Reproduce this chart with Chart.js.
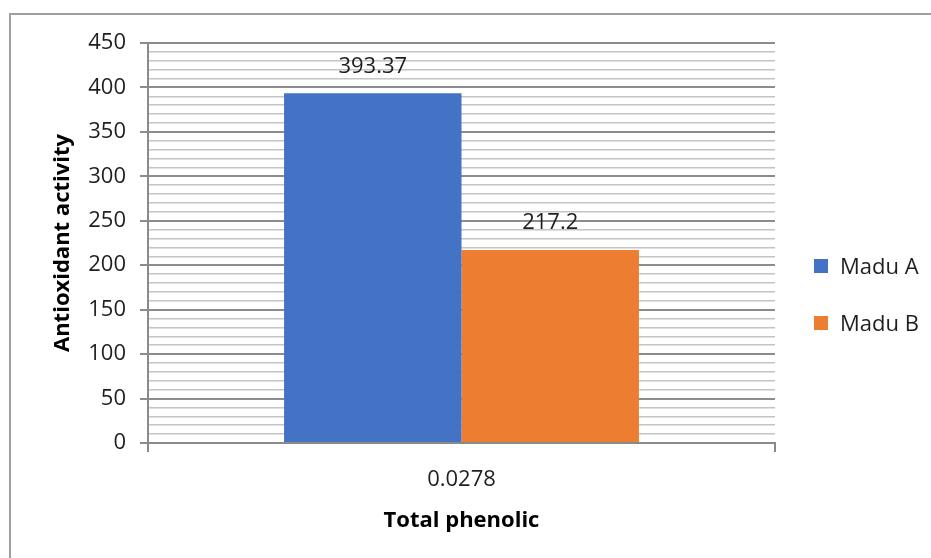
<!DOCTYPE html>
<html>
<head>
<meta charset="utf-8">
<script src="https://cdn.jsdelivr.net/npm/chart.js@4.4.1/dist/chart.umd.min.js"></script>
<style>
  html, body { margin: 0; padding: 0; background: #ffffff; }
  #wrap { position: relative; width: 931px; height: 558px; overflow: hidden; }
  #frame { position: absolute; left: 9px; top: 13px; width: 960px; height: 600px;
           border-left: 2px solid #a0a0a0; border-top: 2px solid #a0a0a0; box-sizing: border-box; }
  canvas { position: absolute; left: 0; top: 0; }
</style>
</head>
<body>
<div id="wrap">
  <div id="frame"></div>
  <canvas id="c" width="931" height="558"></canvas>
</div>
<script>
// Categories, series and axis settings
const categories = ['0.0278'];
const seriesNames = ['Madu A', 'Madu B'];
const maduA = [393.37];
const maduB = [217.2];
const seriesColors = ['#4472C4', '#ED7D31'];
const yMax = 450;
const yMajorStep = 50;
const yMinorStep = 10;
const xTitle = 'Total phenolic';
const yTitle = 'Antioxidant activity';

const FONT = '"Open Sans", "Noto Sans", sans-serif';
const TEXT = '#1f1f1f';
const SIZE = 22;

// Value labels above each bar
const valueLabels = {
  id: 'valueLabels',
  afterDatasetsDraw(chart) {
    const ctx = chart.ctx;
    ctx.save();
    ctx.font = SIZE + 'px ' + FONT;
    ctx.fillStyle = TEXT;
    ctx.textAlign = 'center';
    ctx.textBaseline = 'middle';
    chart.data.datasets.forEach((ds, i) => {
      chart.getDatasetMeta(i).data.forEach((bar, j) => {
        ctx.fillText(String(ds.data[j]), bar.x, bar.y - 27);
      });
    });
    ctx.restore();
  }
};

// Legend on the right, one row per series
const sideLegend = {
  id: 'sideLegend',
  afterDraw(chart) {
    const ctx = chart.ctx;
    ctx.save();
    ctx.font = SIZE + 'px ' + FONT;
    ctx.textBaseline = 'middle';
    ctx.textAlign = 'left';
    const x0 = 814, y0 = 259, gap = 57;
    chart.data.datasets.forEach((ds, i) => {
      const y = y0 + i * gap;
      ctx.fillStyle = ds.backgroundColor;
      ctx.fillRect(x0, y, 14, 14);
      ctx.fillStyle = TEXT;
      ctx.fillText(ds.label, x0 + 26, y + 9);
    });
    ctx.restore();
  }
};

new Chart(document.getElementById('c'), {
  type: 'bar',
  data: {
    labels: categories,
    datasets: [
      { label: seriesNames[0], data: maduA, backgroundColor: seriesColors[0] },
      { label: seriesNames[1], data: maduB, backgroundColor: seriesColors[1] }
    ]
  },
  options: {
    responsive: false,
    animation: false,
    devicePixelRatio: 1,
    layout: { padding: { top: 43, right: 156, left: 0, bottom: 0 } },
    datasets: { bar: { categoryPercentage: 0.566, barPercentage: 1.0 } },
    plugins: {
      legend: { display: false },
      tooltip: { enabled: false }
    },
    scales: {
      x: {
        offset: true,
        grid: {
          offset: true,
          drawOnChartArea: false,
          drawTicks: true,
          tickLength: 9,
          color: '#8a8a8a',
          lineWidth: 2
        },
        border: { display: true, color: '#8a8a8a', width: 2 },
        ticks: { color: TEXT, font: { family: FONT, size: SIZE }, padding: 15 },
        title: {
          display: true, text: xTitle, color: '#000',
          font: { family: FONT, size: SIZE, weight: 'bold' },
          padding: { top: 0, bottom: 24 }
        },
        afterFit(scale) { scale.height = 115; }
      },
      y: {
        min: 0,
        max: yMax,
        ticks: {
          stepSize: yMinorStep,
          autoSkip: false,
          color: TEXT,
          font: { family: FONT, size: SIZE },
          padding: 14,
          callback: (v) => (v % yMajorStep === 0 ? v : '')
        },
        grid: {
          drawTicks: true,
          tickLength: 8,
          color: (c) => (c.tick && c.tick.value % yMajorStep === 0 ? '#8c8c8c' : '#c4c4c4'),
          tickColor: (c) => (c.tick && c.tick.value % yMajorStep === 0 ? '#8c8c8c' : 'rgba(0,0,0,0)'),
          lineWidth: (c) => (c.tick && c.tick.value % yMajorStep === 0 ? 2 : 1.5)
        },
        border: { display: true, color: '#8a8a8a', width: 2 },
        title: {
          display: true, text: yTitle, color: '#000',
          font: { family: FONT, size: SIZE, weight: 'bold' },
          padding: { top: 50, bottom: 0 }
        },
        afterFit(scale) { scale.width = 148; }
      }
    }
  },
  plugins: [valueLabels, sideLegend]
});
</script>
</body>
</html>
